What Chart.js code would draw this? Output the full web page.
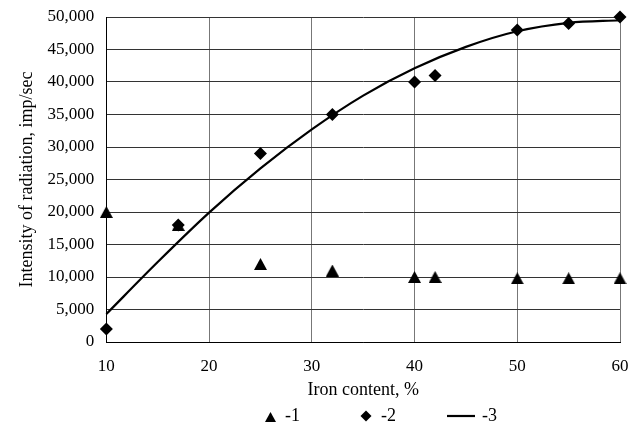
<!DOCTYPE html>
<html>
<head>
<meta charset="utf-8">
<script src="https://cdn.jsdelivr.net/npm/chart.js@4"></script>
<style>
  html, body { margin: 0; padding: 0; background: #fff; }
  #wrap { width: 640px; height: 426px; }
</style>
</head>
<body>
<div id="wrap"><canvas id="ironChart"></canvas></div>
<script>
// iron content, %
const ironContent = [10, 17, 25, 32, 40, 42, 50, 55, 60];
// series 1 (triangles) and series 2 (diamonds), imp/sec
const series1 = [20000, 18000, 12000, 11000, 10000, 10000, 9800, 9800, 9800];
const series2 = [2000, 18000, 29000, 35000, 40000, 41000, 48000, 49000, 50000];
// curve 3
const curveX = [10, 15, 20, 25, 30, 35, 40, 45, 50, 55, 60];
const curveY = [4300, 12300, 19900, 26700, 32700, 37900, 42100, 45400, 47800, 49100, 49500];

const serif = "'Liberation Serif', 'Times New Roman', serif";

const toPoints = (xs, ys) => xs.map((x, i) => ({ x: x, y: ys[i] }));

// triangle marker centred on its box (like the original plot)
function triangleMarker(w, h) {
    const c = document.createElement('canvas');
    c.width = w;
    c.height = h;
    const g = c.getContext('2d');
    g.fillStyle = '#000';
    g.beginPath();
    g.moveTo(0, h);
    g.lineTo(w / 2, 0);
    g.lineTo(w, h);
    g.closePath();
    g.fill();
    return c;
}
const triBig = triangleMarker(13, 12);
const triSmall = triangleMarker(11, 10);

// legend under the axis title: marker, label
const bottomLegend = {
    id: 'bottomLegend',
    afterDraw(chart) {
        const ctx = chart.ctx;
        const y = 416;
        ctx.save();
        ctx.fillStyle = '#000';
        ctx.strokeStyle = '#000';
        ctx.drawImage(triSmall, 265, y - 4);
        Chart.helpers.drawPoint(ctx, { pointStyle: 'rectRot', radius: 5.5, rotation: 0, borderWidth: 0 }, 366, y);
        ctx.lineWidth = 2.2;
        ctx.beginPath();
        ctx.moveTo(447, y);
        ctx.lineTo(475, y);
        ctx.stroke();
        ctx.font = '18px ' + serif;
        ctx.textBaseline = 'middle';
        ctx.textAlign = 'left';
        const labels = chart.data.datasets.map(d => d.label);
        ctx.fillText(labels[0], 285, y);
        ctx.fillText(labels[1], 381, y);
        ctx.fillText(labels[2], 482, y);
        ctx.restore();
    }
};

new Chart(document.getElementById('ironChart'), {
    type: 'scatter',
    data: {
        datasets: [
            {
                label: '-1',
                data: toPoints(ironContent, series1),
                pointStyle: triBig,
                pointRadius: 7,
                pointHoverRadius: 7,
                backgroundColor: '#000',
                borderColor: '#000',
                borderWidth: 0,
                clip: false
            },
            {
                label: '-2',
                data: toPoints(ironContent, series2),
                pointStyle: 'rectRot',
                pointRadius: 6.5,
                pointHoverRadius: 6.5,
                backgroundColor: '#000',
                borderColor: '#000',
                borderWidth: 0,
                clip: false
            },
            {
                label: '-3',
                data: toPoints(curveX, curveY),
                showLine: true,
                pointRadius: 0,
                borderColor: '#000',
                backgroundColor: '#000',
                borderWidth: 2.2,
                cubicInterpolationMode: 'monotone',
                clip: false
            }
        ]
    },
    options: {
        responsive: true,
        maintainAspectRatio: false,
        animation: false,
        layout: { padding: { top: 17, right: 20, left: 16, bottom: 25 } },
        plugins: {
            tooltip: { enabled: false },
            legend: { display: false }
        },
        scales: {
            x: {
                type: 'linear',
                min: 10,
                max: 60,
                ticks: { stepSize: 10, color: '#000', padding: 0, font: { family: serif, size: 17 } },
                grid: { color: '#777', lineWidth: 1, drawTicks: true, tickLength: 14, tickColor: 'rgba(0,0,0,0)' },
                border: { color: '#000', width: 1 },
                title: { display: true, text: 'Iron content, %', color: '#000', font: { family: serif, size: 18 }, padding: { top: 3, bottom: 0 } }
            },
            y: {
                min: 0,
                max: 50000,
                ticks: { stepSize: 5000, color: '#000', padding: 0, font: { family: serif, size: 17 } },
                grid: { color: '#333', lineWidth: 1, drawTicks: true, tickLength: 12, tickColor: 'rgba(0,0,0,0)' },
                border: { color: '#000', width: 1 },
                title: { display: true, text: 'Intensity of radiation, imp/sec', color: '#000', font: { family: serif, size: 18 }, padding: { top: 0, bottom: 10 } }
            }
        }
    },
    plugins: [bottomLegend]
});
</script>
</body>
</html>
